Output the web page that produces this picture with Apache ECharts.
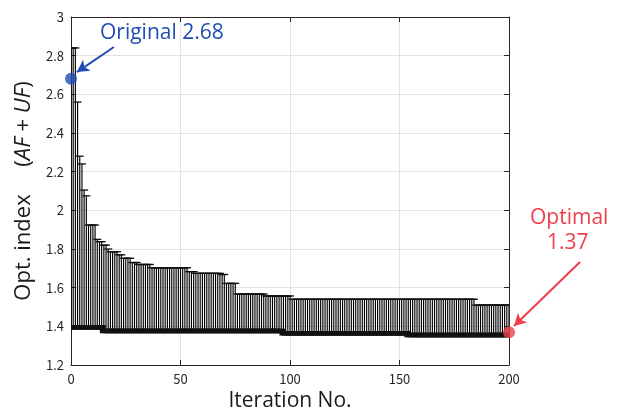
<!DOCTYPE html>
<html>
<head>
<meta charset="utf-8">
<script src="https://cdn.jsdelivr.net/npm/echarts@6/dist/echarts.min.js"></script>
<style>html,body{margin:0;padding:0;background:#fff;}#c{width:624px;height:414px;}</style>
</head>
<body>
<div id="c"></div>
<script>
// Upper end of each iteration's range (iterations 0..200)
var upperVals = [
  2.84,2.84,2.84,2.56,2.28,2.24,2.105,2.075,1.924,1.924,
  1.924,1.924,1.85,1.838,1.838,1.82,1.82,1.80,1.786,1.786,
  1.786,1.786,1.77,1.77,1.752,1.752,1.752,1.752,1.73,1.73,
  1.73,1.72,1.72,1.72,1.72,1.72,1.72,1.703,1.703,1.703,
  1.703,1.703,1.703,1.703,1.703,1.703,1.703,1.703,1.703,1.703,
  1.703,1.703,1.703,1.703,1.683,1.683,1.683,1.674,1.674,1.674,
  1.674,1.674,1.674,1.674,1.674,1.674,1.674,1.674,1.674,1.668,
  1.668,1.622,1.622,1.622,1.622,1.622,1.567,1.567,1.567,1.567,
  1.567,1.567,1.567,1.567,1.567,1.567,1.567,1.567,1.567,1.557,
  1.557,1.557,1.557,1.557,1.557,1.557,1.557,1.557,1.557,1.557,
  1.557,1.54,1.54,1.54,1.54,1.54,1.54,1.54,1.54,1.54,
  1.54,1.54,1.54,1.54,1.54,1.54,1.54,1.54,1.54,1.54,
  1.54,1.54,1.54,1.54,1.54,1.54,1.54,1.54,1.54,1.54,
  1.54,1.54,1.54,1.54,1.54,1.54,1.54,1.54,1.54,1.54,
  1.54,1.54,1.54,1.54,1.54,1.54,1.54,1.54,1.54,1.54,
  1.54,1.54,1.54,1.54,1.54,1.54,1.54,1.54,1.54,1.54,
  1.54,1.54,1.54,1.54,1.54,1.54,1.54,1.54,1.54,1.54,
  1.54,1.54,1.54,1.54,1.54,1.54,1.54,1.54,1.54,1.54,
  1.54,1.54,1.54,1.54,1.54,1.51,1.51,1.51,1.51,1.51,
  1.51,1.51,1.51,1.51,1.51,1.51,1.51,1.51,1.51,1.51,
  1.51
];
// Lower end of each iteration's range (iterations 0..200)
var lowerVals = [
  1.395,1.395,1.395,1.395,1.395,1.395,1.395,1.395,1.395,1.395,
  1.395,1.395,1.395,1.395,1.395,1.376,1.376,1.376,1.376,1.376,
  1.376,1.376,1.376,1.376,1.376,1.376,1.376,1.376,1.376,1.376,
  1.376,1.376,1.376,1.376,1.376,1.376,1.376,1.376,1.376,1.376,
  1.376,1.376,1.376,1.376,1.376,1.376,1.376,1.376,1.376,1.376,
  1.376,1.376,1.376,1.376,1.376,1.376,1.376,1.376,1.376,1.376,
  1.376,1.376,1.376,1.376,1.376,1.376,1.376,1.376,1.376,1.376,
  1.376,1.376,1.376,1.376,1.376,1.376,1.376,1.376,1.376,1.376,
  1.376,1.376,1.376,1.376,1.376,1.376,1.376,1.376,1.376,1.376,
  1.376,1.376,1.376,1.376,1.376,1.376,1.376,1.364,1.364,1.364,
  1.364,1.364,1.364,1.364,1.364,1.364,1.364,1.364,1.364,1.364,
  1.364,1.364,1.364,1.364,1.364,1.364,1.364,1.364,1.364,1.364,
  1.364,1.364,1.364,1.364,1.364,1.364,1.364,1.364,1.364,1.364,
  1.364,1.364,1.364,1.364,1.364,1.364,1.364,1.364,1.364,1.364,
  1.364,1.364,1.364,1.364,1.364,1.364,1.364,1.364,1.364,1.364,
  1.364,1.364,1.364,1.364,1.355,1.355,1.355,1.355,1.355,1.355,
  1.355,1.355,1.355,1.355,1.355,1.355,1.355,1.355,1.355,1.355,
  1.355,1.355,1.355,1.355,1.355,1.355,1.355,1.355,1.355,1.355,
  1.355,1.355,1.355,1.355,1.355,1.355,1.355,1.355,1.355,1.355,
  1.355,1.355,1.355,1.355,1.355,1.355,1.355,1.355,1.355,1.355,
  1.355
];
var originalPoint = [0, 2.68];
var optimalPoint = [200, 1.37];
var originalLabel = 'Original 2.68';
var optimalLabel = ['Optimal', '1.37'];
var originalArrow = [[19.6, 2.845], [2.7, 2.715]];

var rangeData = [];
for (var i = 0; i < upperVals.length; i++) rangeData.push([i, lowerVals[i], upperVals[i]]);

var chart = echarts.init(document.getElementById('c'), null, {renderer: 'canvas'});
var tickFont = {fontFamily: 'Noto Sans CJK JP', fontSize: 13, color: '#262626'};
var axisCol = '#262626';
var gridCol = '#e3e3e3';
var blue = '#1f4db3';
var red = '#f03e4b';

chart.setOption({
  animation: false,
  grid: {left: 71, right: 115, top: 17, bottom: 49, containLabel: false, outerBoundsMode: 'none'},
  xAxis: [{
    type: 'value', min: 0, max: 200, interval: 50, position: 'bottom',
    axisLine: {show: true, onZero: false, lineStyle: {color: axisCol, width: 1}},
    axisTick: {show: true, inside: true, length: 5, lineStyle: {color: axisCol}},
    axisLabel: Object.assign({margin: 8}, tickFont),
    splitLine: {show: true, lineStyle: {color: gridCol, width: 1}},
    name: 'Iteration No.', nameLocation: 'middle', nameGap: 25,
    nameTextStyle: {fontFamily: 'Open Sans', fontSize: 21, color: '#1a1a1a'}
  }, {
    type: 'value', min: 0, max: 200, interval: 50, position: 'top',
    axisLine: {show: true, onZero: false, lineStyle: {color: axisCol, width: 1}},
    axisTick: {show: true, inside: true, length: 5, lineStyle: {color: axisCol}},
    axisLabel: {show: false}, splitLine: {show: false}
  }],
  yAxis: [{
    type: 'value', min: 1.2, max: 3, interval: 0.2, position: 'left',
    axisLine: {show: true, onZero: false, lineStyle: {color: axisCol, width: 1}},
    axisTick: {show: true, inside: true, length: 5, lineStyle: {color: axisCol}},
    axisLabel: Object.assign({margin: 7}, tickFont),
    splitLine: {show: true, lineStyle: {color: gridCol, width: 1}},
    name: 'Opt. index\u3000\u00a0({it|AF} + {it|UF})', nameLocation: 'middle', nameGap: 34,
    nameTextStyle: {fontFamily: 'Open Sans', fontSize: 22, color: '#1a1a1a',
      rich: {it: {fontFamily: 'Open Sans', fontSize: 22, fontStyle: 'italic', color: '#1a1a1a'}}}
  }, {
    type: 'value', min: 1.2, max: 3, interval: 0.2, position: 'right',
    axisLine: {show: true, onZero: false, lineStyle: {color: axisCol, width: 1}},
    axisTick: {show: true, inside: true, length: 5, lineStyle: {color: axisCol}},
    axisLabel: {show: false}, splitLine: {show: false}
  }],
  series: [{
    type: 'custom',
    clip: true,
    xAxisIndex: 0, yAxisIndex: 0,
    data: rangeData,
    encode: {x: 0, y: [1, 2]},
    renderItem: function (params, api) {
      var x = api.value(0), lo = api.value(1), hi = api.value(2);
      var pHi = api.coord([x, hi]);
      var pLo = api.coord([x, lo]);
      var hw = 4;
      return {
        type: 'group',
        children: [
          {type: 'line', shape: {x1: pHi[0], y1: pHi[1], x2: pLo[0], y2: pLo[1]},
            style: {stroke: '#000', lineWidth: 1.15}},
          {type: 'line', shape: {x1: pHi[0] - hw, y1: pHi[1], x2: pHi[0] + hw, y2: pHi[1]},
            style: {stroke: '#111', lineWidth: 1.3}},
          {type: 'line', shape: {x1: pLo[0] - hw, y1: pLo[1], x2: pLo[0] + hw, y2: pLo[1]},
            style: {stroke: '#111', lineWidth: 4.5}}
        ]
      };
    },
    z: 2
  }, {
    type: 'scatter',
    data: [originalPoint],
    symbolSize: 12,
    itemStyle: {color: blue},
    clip: false,
    z: 5,
    markLine: {
      silent: true, symbol: ['none', 'arrow'], symbolSize: [10, 12],
      lineStyle: {color: blue, width: 2, type: 'solid'},
      label: {show: false},
      data: [[{coord: originalArrow[0]}, {coord: originalArrow[1]}]]
    }
  }, {
    type: 'scatter',
    data: [optimalPoint],
    symbolSize: 12,
    itemStyle: {color: red},
    clip: false,
    z: 5,
    markLine: {
      silent: true, symbol: ['none', 'arrow'], symbolSize: [10, 12],
      lineStyle: {color: red, width: 2, type: 'solid'},
      label: {show: false},
      data: [[{x: 580, y: 262}, {x: 514, y: 326}]]
    }
  }],
  graphic: [
    {type: 'text', left: 100, top: 23, style: {text: originalLabel, fontFamily: 'Open Sans', fontSize: 21, fill: blue}},
    {type: 'text', left: 530, top: 208, style: {text: optimalLabel[0], fontFamily: 'Open Sans', fontSize: 21, fill: red}},
    {type: 'text', left: 547, top: 233, style: {text: optimalLabel[1], fontFamily: 'Open Sans', fontSize: 21, fill: red}}
  ]
});
</script>
</body>
</html>
